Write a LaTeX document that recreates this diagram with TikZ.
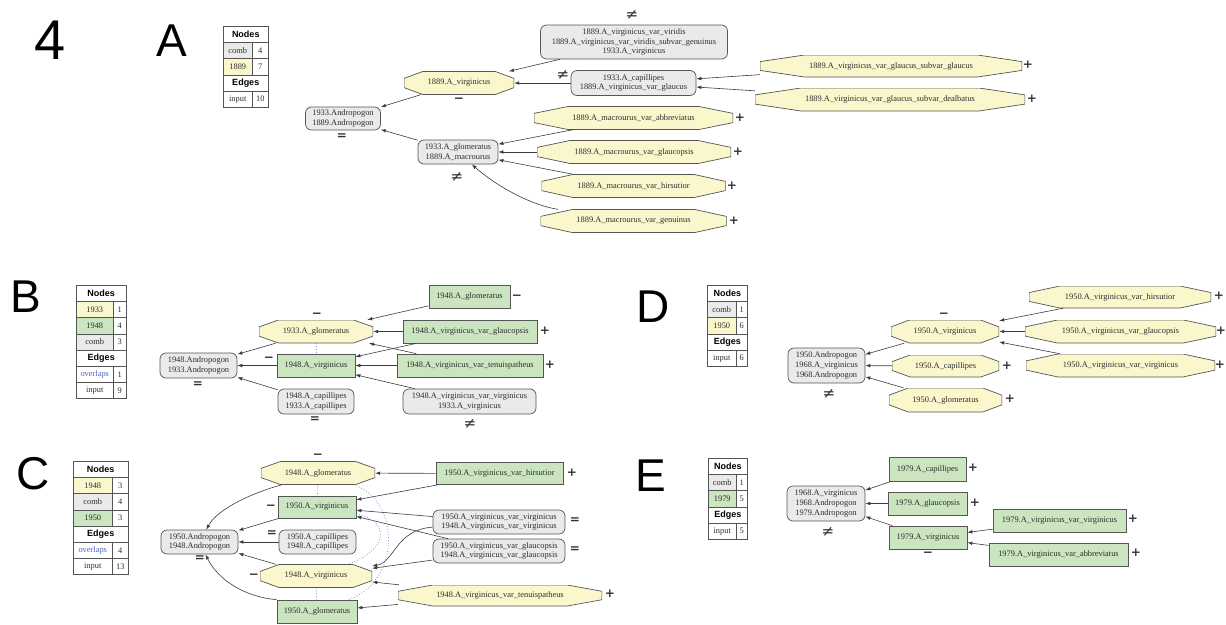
\documentclass[tikz,border=0pt]{standalone}
\usepackage{fontspec}
\setmainfont{Liberation Serif}
\newfontfamily\headfont{Liberation Sans}
\newfontfamily\signfont{DejaVu Sans}
\usepackage{xcolor}
\usetikzlibrary{calc,arrows.meta}

\definecolor{oldfill}{RGB}{251,247,204}
\definecolor{newfill}{RGB}{203,229,193}
\definecolor{combfill}{RGB}{234,234,234}
\definecolor{linegray}{RGB}{85,85,85}
\definecolor{edgegray}{RGB}{60,60,60}
\definecolor{textgray}{RGB}{45,45,45}
\definecolor{ovblue}{RGB}{80,100,190}

\newcommand{\nodefont}{\fontsize{8.4}{9.7}\selectfont}

% octagon drawn inside the node box
\newcommand{\octagon}{%
  \def\pb{path picture bounding box}%
  \filldraw[draw=linegray, fill=oldfill, line width=0.7pt]
    ($(\pb.north west)!.17!(\pb.north east)$) -- ($(\pb.north east)!.17!(\pb.north west)$)
    -- ($(\pb.north east)!.3!(\pb.south east)$) -- ($(\pb.south east)!.3!(\pb.north east)$)
    -- ($(\pb.south east)!.17!(\pb.south west)$) -- ($(\pb.south west)!.17!(\pb.south east)$)
    -- ($(\pb.south west)!.3!(\pb.north west)$) -- ($(\pb.north west)!.3!(\pb.south west)$) -- cycle;}

% legend table: name, left x, split x, right x, top y, rows
\newcommand{\legend}[6]{%
  \foreach \lab/\num/\fil [count=\rowi from 0] in {#6}{%
    \pgfmathsetmacro{\yt}{#5+16.2*\rowi}%
    \pgfmathsetmacro{\wall}{#4-#2}%
    \pgfmathsetmacro{\wleft}{#3-#2}%
    \pgfmathsetmacro{\wright}{#4-#3}%
    \ifx\num\empty
      \node[leghead, minimum width=\wall pt, anchor=north west] (#1-\rowi) at (#2,\yt) {\lab};
    \else
      \node[legcell, fill=\fil, minimum width=\wleft pt, anchor=north west] (#1-\rowi) at (#2,\yt) {\lab};
      \node[legcell, minimum width=\wright pt, anchor=north west] (#1-\rowi-n) at (#3,\yt) {\num};
    \fi}}

\tikzset{
  base/.style={inner sep=0pt, font=\nodefont, text=textgray, align=center},
  comb/.style={base, draw=linegray, fill=combfill, line width=0.7pt, rounded corners=6pt, minimum height=24pt},
  newtax/.style={base, draw=linegray, fill=newfill, line width=0.7pt, minimum height=23pt},
  oldtax/.style={base, minimum width=#1pt, minimum height=23pt, path picture={\octagon}},
  legcell/.style={draw=linegray, line width=0.5pt, minimum height=16.2pt, inner sep=0pt, font=\nodefont, text=textgray},
  leghead/.style={legcell, fill=white, font=\headfont\bfseries\fontsize{9}{9}\selectfont, text=black},
  sign/.style={inner sep=0pt, font=\signfont\bfseries\fontsize{12}{12}\selectfont, text=black!80},
  neq/.style={sign, font=\signfont\fontsize{15}{15}\selectfont},
  panel/.style={inner sep=0pt, font=\headfont\fontsize{46}{46}\selectfont},
  link/.style={draw=edgegray, line width=0.6pt, -{Latex[length=5pt,width=3.6pt]}},
  ovlink/.style={draw=ovblue!70, line width=0.8pt, dotted}
}

\begin{document}
\begin{tikzpicture}[x=1pt, y=-1pt]
  \fill[white] (0,0) rectangle (1226,624);
  \useasboundingbox (0,0) rectangle (1226,624);

  % panel letters
  \node[panel, font=\headfont\fontsize{56}{56}\selectfont] (fig) at (50,40) {4};
  \node[panel] (pA) at (172,41) {A};
  \node[panel] (pB) at (26,297) {B};
  \node[panel] (pC) at (33,474) {C};
  \node[panel] (pD) at (653,307) {D};
  \node[panel] (pE) at (651,476) {E};

  % legends
  \legend{tA}{223}{252}{268}{26}{Nodes//, comb/4/combfill, 1889/7/oldfill, Edges//, input/10/white}
  \legend{tB}{76}{113}{126}{285}{Nodes//, 1933/1/oldfill, 1948/4/newfill, comb/3/combfill, Edges//, {\color{ovblue}overlaps}/1/white, input/9/white}
  \legend{tC}{73}{112}{128}{461}{Nodes//, 1948/3/oldfill, comb/4/combfill, 1950/3/newfill, Edges//, {\color{ovblue}overlaps}/4/white, input/13/white}
  \legend{tD}{707}{736}{747}{285}{Nodes//, comb/1/combfill, 1950/6/oldfill, Edges//, input/6/white}
  \legend{tE}{708}{736}{747}{458}{Nodes//, comb/1/combfill, 1979/5/newfill, Edges//, input/5/white}

  % panel A
  \node[comb, minimum width=75pt, minimum height=23pt] (andA) at (343,118.5) {1933.Andropogon\\1889.Andropogon};
  \node[oldtax=110] (virA) at (459,83) {1889.A\_virginicus};
  \node[comb, minimum width=80pt] (globA) at (458,152) {1933.A\_glomeratus\\1889.A\_macrourus};
  \node[comb, minimum width=187pt, minimum height=34pt] (viriA) at (634,42) {1889.A\_virginicus\_var\_viridis\\1889.A\_virginicus\_var\_viridis\_subvar\_genuinus\\1933.A\_virginicus};
  \node[comb, minimum width=125pt, minimum height=25pt] (capA) at (633.5,83) {1933.A\_capillipes\\1889.A\_virginicus\_var\_glaucus};
  \node[oldtax=262, minimum height=22pt] (sglA) at (891,66) {1889.A\_virginicus\_var\_glaucus\_subvar\_glaucus};
  \node[oldtax=270] (dealA) at (890,99.5) {1889.A\_virginicus\_var\_glaucus\_subvar\_dealbatus};
  \node[oldtax=199] (abbA) at (633.5,118) {1889.A\_macrourus\_var\_abbreviatus};
  \node[oldtax=194] (glcA) at (634,152) {1889.A\_macrourus\_var\_glaucopsis};
  \node[oldtax=184] (hirA) at (633.5,186) {1889.A\_macrourus\_var\_hirsutior};
  \node[oldtax=186] (genA) at (633.5,221) {1889.A\_macrourus\_var\_genuinus};

  \node[neq] (sA1) at (632,15) {≠};
  \node[neq] (sA2) at (563,75) {≠};
  \node[sign] (sA3) at (459,100) {−};
  \node[sign] (sA4) at (342,137) {=};
  \node[neq] (sA5) at (457,177) {≠};
  \node[sign] (sA6) at (1028,65) {+};
  \node[sign] (sA7) at (1032,99) {+};
  \node[sign] (sA8) at (740,118) {+};
  \node[sign] (sA9) at (738,152) {+};
  \node[sign] (sA10) at (732,186) {+};
  \node[sign] (sA11) at (734,221) {+};

  \draw[link] (viriA) -- (virA);
  \draw[link] (capA) -- (virA);
  \draw[link] (sglA) -- (capA);
  \draw[link] (dealA) -- (capA);
  \draw[link] (virA) -- (andA);
  \draw[link] (globA) -- (andA);
  \draw[link] (abbA) -- (globA);
  \draw[link] (glcA) -- (globA);
  \draw[link] (hirA) -- (globA);
  \draw[link] (genA) .. controls (530,205) and (495,185) .. (globA);

  % panel B
  \node[comb, minimum width=77pt, minimum height=25pt] (andB) at (198.5,365.5) {1948.Andropogon\\1933.Andropogon};
  \node[oldtax=114] (globB) at (316,331.5) {1933.A\_glomeratus};
  \node[newtax, minimum width=78pt] (virB) at (316,365.5) {1948.A\_virginicus};
  \node[comb, minimum width=76pt, minimum height=25pt] (capB) at (316,401.5) {1948.A\_capillipes\\1933.A\_capillipes};
  \node[newtax, minimum width=81pt] (glomB) at (469.5,296.5) {1948.A\_glomeratus};
  \node[newtax, minimum width=134pt] (glcB) at (470,331.5) {1948.A\_virginicus\_var\_glaucopsis};
  \node[newtax, minimum width=146pt] (tenB) at (470,365.5) {1948.A\_virginicus\_var\_tenuispatheus};
  \node[comb, minimum width=133pt, minimum height=25pt] (vvB) at (469.5,401.5) {1948.A\_virginicus\_var\_virginicus\\1933.A\_virginicus};

  \node[sign] (sB1) at (317,315) {−};
  \node[sign] (sB2) at (198,385) {=};
  \node[sign] (sB3) at (269,359) {−};
  \node[sign] (sB4) at (315,420) {=};
  \node[sign] (sB5) at (517,297) {−};
  \node[sign] (sB6) at (545,331) {+};
  \node[sign] (sB7) at (550,365) {+};
  \node[neq] (sB8) at (470,424) {≠};

  \draw[link] (globB) -- (andB);
  \draw[link] (virB) -- (andB);
  \draw[link] (capB) -- (andB);
  \draw[link] (glomB) -- (globB);
  \draw[link] (glcB) -- (globB);
  \draw[link] (glcB) -- (virB);
  \draw[link] (tenB) -- (globB);
  \draw[link] (tenB) -- (virB);
  \draw[link] (vvB) -- (virB);
  \draw[ovlink] (globB) -- (virB);

  % panel C
  \node[comb, minimum width=77pt] (andC) at (199.5,542) {1950.Andropogon\\1948.Andropogon};
  \node[oldtax=114] (glomC) at (318,473) {1948.A\_glomeratus};
  \node[newtax, minimum width=78pt, minimum height=22pt] (vir50C) at (317,507) {1950.A\_virginicus};
  \node[comb, minimum width=77pt] (capC) at (317.5,542) {1950.A\_capillipes\\1948.A\_capillipes};
  \node[oldtax=112] (vir48C) at (316,576) {1948.A\_virginicus};
  \node[newtax, minimum width=80pt] (glom50C) at (317,611.5) {1950.A\_glomeratus};
  \node[newtax, minimum width=127pt, minimum height=22pt] (hirC) at (499.5,473.5) {1950.A\_virginicus\_var\_hirsutior};
  \node[comb, minimum width=132pt] (vvC) at (499,522) {1950.A\_virginicus\_var\_virginicus\\1948.A\_virginicus\_var\_virginicus};
  \node[comb, minimum width=132pt] (glcC) at (499,551) {1950.A\_virginicus\_var\_glaucopsis\\1948.A\_virginicus\_var\_glaucopsis};
  \node[oldtax=204, minimum height=21pt] (tenC) at (500,595.5) {1948.A\_virginicus\_var\_tenuispatheus};

  \node[sign] (sC1) at (318,456) {−};
  \node[sign] (sC2) at (271,507) {−};
  \node[sign] (sC3) at (200,559) {=};
  \node[sign] (sC4) at (272,534) {=};
  \node[sign] (sC5) at (254,576) {−};
  \node[sign] (sC6) at (572,473) {+};
  \node[sign] (sC7) at (575,521) {=};
  \node[sign] (sC8) at (575,550) {=};
  \node[sign] (sC9) at (610,594) {+};

  \draw[link] (glomC.198) .. controls (255,492) and (218,508) .. (andC);
  \draw[link] (vir50C) -- (andC);
  \draw[link] (capC) -- (andC);
  \draw[link] (vir48C) -- (andC);
  \draw[link] (glom50C.north west) .. controls (245,597) and (218,580) .. (andC);
  \draw[link] (hirC) -- (glomC);
  \draw[link] (hirC) -- (vir50C);
  \draw[link] (vvC) -- (vir50C);
  \draw[link] (vvC) .. controls (395,530) and (395,562) .. (vir48C);
  \draw[link] (glcC) -- (vir50C);
  \draw[link] (glcC) -- (vir48C);
  \draw[link] (tenC) -- (vir48C);
  \draw[link] (tenC) -- (glom50C);
  \draw[ovlink] (glomC) -- (vir50C);
  \draw[ovlink] (vir48C) -- (glom50C);
  \draw[ovlink] (glomC) .. controls (400,500) and (402,580) .. (glom50C);
  \draw[ovlink] (vir50C) .. controls (388,520) and (392,548) .. (vir48C);

  % panel D
  \node[comb, minimum width=77pt, minimum height=35pt] (andD) at (826.5,365.5) {1950.Andropogon\\1968.A\_virginicus\\1968.Andropogon};
  \node[oldtax=108] (virD) at (945,331.5) {1950.A\_virginicus};
  \node[oldtax=107, minimum height=22pt] (capD) at (945.5,366) {1950.A\_capillipes};
  \node[oldtax=113, minimum height=24pt] (glomD) at (945.5,400) {1950.A\_glomeratus};
  \node[oldtax=182, minimum height=22pt] (hirD) at (1120,297) {1950.A\_virginicus\_var\_hirsutior};
  \node[oldtax=191] (glcD) at (1120.5,331.5) {1950.A\_virginicus\_var\_glaucopsis};
  \node[oldtax=189] (vvD) at (1120.5,365.5) {1950.A\_virginicus\_var\_virginicus};

  \node[neq] (sD1) at (829,394) {≠};
  \node[sign] (sD2) at (944,315) {−};
  \node[sign] (sD3) at (1007,366) {+};
  \node[sign] (sD4) at (1010,399) {+};
  \node[sign] (sD5) at (1219,296) {+};
  \node[sign] (sD6) at (1221,331) {+};
  \node[sign] (sD7) at (1220,365) {+};

  \draw[link] (virD) -- (andD);
  \draw[link] (capD) -- (andD);
  \draw[link] (glomD) -- (andD);
  \draw[link] (hirD) -- (virD);
  \draw[link] (glcD) -- (virD);
  \draw[link] (vvD) -- (virD);

  % panel E
  \node[comb, minimum width=78pt, minimum height=35pt] (andE) at (826,503.5) {1968.A\_virginicus\\1968.Andropogon\\1979.Andropogon};
  \node[newtax, minimum width=77pt, minimum height=24pt] (capE) at (927.5,469) {1979.A\_capillipes};
  \node[newtax, minimum width=79pt] (glcE) at (927.5,503.5) {1979.A\_glaucopsis};
  \node[newtax, minimum width=78pt] (virE) at (928,537.5) {1979.A\_virginicus};
  \node[newtax, minimum width=133pt] (vvE) at (1059.5,520.5) {1979.A\_virginicus\_var\_virginicus};
  \node[newtax, minimum width=139pt] (abE) at (1058.5,554.5) {1979.A\_virginicus\_var\_abbreviatus};

  \node[neq] (sE1) at (828,532) {≠};
  \node[sign] (sE2) at (973,468) {+};
  \node[sign] (sE3) at (975,503) {+};
  \node[sign] (sE4) at (928,554) {−};
  \node[sign] (sE5) at (1133,519) {+};
  \node[sign] (sE6) at (1136,553) {+};

  \draw[link] (capE) -- (andE);
  \draw[link] (glcE) -- (andE);
  \draw[link] (virE) -- (andE);
  \draw[link] (vvE) -- (virE);
  \draw[link] (abE) -- (virE);
\end{tikzpicture}
\end{document}
